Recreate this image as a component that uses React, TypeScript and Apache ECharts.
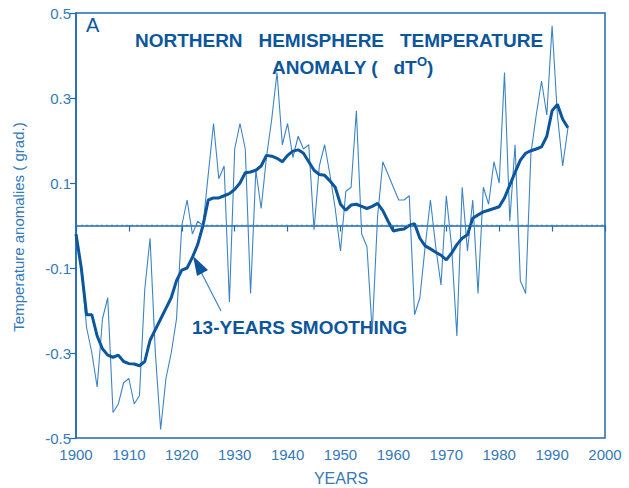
import React, { useEffect, useRef } from "react";
import * as echarts from "echarts";

const startYear = 1900;

// Annual Northern Hemisphere temperature anomalies (thin line), 1900–1993
const annual = [
  -0.02, -0.1, -0.24, -0.3, -0.38, -0.22, -0.17, -0.44, -0.42, -0.37,
  -0.36, -0.42, -0.4, -0.15, -0.03, -0.3, -0.48, -0.36, -0.3, -0.22,
  0.0, 0.06, -0.02, 0.01, 0.0, 0.12, 0.24, 0.11, 0.14, -0.18,
  0.18, 0.24, 0.18, -0.16, 0.13, 0.04, 0.16, 0.25, 0.36, 0.19,
  0.24, 0.16, 0.21, 0.18, 0.19, -0.01, 0.14, 0.19, 0.12, 0.04,
  -0.06, 0.08, 0.09, 0.27, -0.02, -0.05, -0.25, 0.02, 0.15, 0.12,
  0.09, 0.06, 0.06, 0.07, -0.21, -0.17, -0.05, 0.06, -0.05, -0.14,
  0.07, -0.05, -0.26, 0.09, -0.06, 0.06, -0.16, 0.09, 0.05, 0.15,
  0.1, 0.36, 0.01, 0.19, -0.13, -0.16, 0.17, 0.26, 0.34, 0.26,
  0.47, 0.26, 0.14, 0.23,
];

// 13-year smoothing (thick line), 1900–1993
const smoothed = [
  -0.02, -0.1, -0.21, -0.21, -0.26, -0.29, -0.305, -0.31, -0.305, -0.32,
  -0.325, -0.326, -0.33, -0.32, -0.27, -0.245, -0.22, -0.195, -0.17, -0.13,
  -0.105, -0.1, -0.075, -0.045, 0.0, 0.06, 0.065, 0.065, 0.07, 0.075,
  0.085, 0.1, 0.124, 0.126, 0.13, 0.14, 0.165, 0.163, 0.158, 0.15,
  0.165, 0.175, 0.178, 0.17, 0.15, 0.13, 0.12, 0.118, 0.105, 0.09,
  0.05, 0.036, 0.048, 0.05, 0.045, 0.04, 0.045, 0.052, 0.035, 0.01,
  -0.013, -0.01, -0.008, 0.0, 0.004, -0.03, -0.048, -0.055, -0.063, -0.07,
  -0.081, -0.065, -0.045, -0.03, -0.022, 0.017, 0.025, 0.032, 0.036, 0.04,
  0.044, 0.065, 0.095, 0.125, 0.154, 0.17, 0.176, 0.18, 0.185, 0.21,
  0.27, 0.285, 0.25, 0.23,
];

const yTicks = [-0.5, -0.3, -0.1, 0.1, 0.3, 0.5];
const xTicks = [1900, 1910, 1920, 1930, 1940, 1950, 1960, 1970, 1980, 1990, 2000];

const DARK = "#0b569c";
const THIN = "#3c84c5";
const AXIS = "#2269ad";
const LABEL = "#3479ba";
const FONT = "'Liberation Sans', Arial, Helvetica, sans-serif";

export default function App() {
  const ref = useRef<HTMLDivElement>(null);
  useEffect(() => {
    if (!ref.current) return;
    const chart = echarts.init(ref.current, null, { renderer: "svg" });
    const thinData = annual.map((v, i) => [startYear + i, v]);
    const thickData = smoothed.map((v, i) => [startYear + i, v]);
    chart.setOption({
      animation: false,
      textStyle: { fontFamily: FONT },
      grid: {
        left: 76,
        right: 24,
        top: 13,
        bottom: 50,
        show: true,
        borderColor: AXIS,
        borderWidth: 1.5,
        backgroundColor: "transparent",
      },
      xAxis: {
        type: "value",
        min: xTicks[0],
        max: xTicks[xTicks.length - 1],
        interval: 10,
        axisLine: { show: true, lineStyle: { color: AXIS, width: 1.5 } },
        axisTick: { show: true, inside: false, length: 6, lineStyle: { color: AXIS, width: 1.2 } },
        axisLabel: {
          color: LABEL,
          fontSize: 15,
          margin: 9,
          fontFamily: FONT,
          formatter: (v: number) => String(Math.round(v)),
        },
        splitLine: { show: false },
      },
      yAxis: {
        type: "value",
        min: yTicks[0],
        max: yTicks[yTicks.length - 1],
        interval: 0.2,
        axisLine: { show: true, lineStyle: { color: AXIS, width: 1.5 } },
        axisTick: { show: true, inside: false, length: 6, lineStyle: { color: AXIS, width: 1.2 } },
        axisLabel: {
          color: LABEL,
          fontSize: 15,
          margin: 5,
          fontFamily: FONT,
          formatter: (v: number) => v.toFixed(1),
        },
        splitLine: { show: false },
      },
      series: [
        {
          type: "line",
          data: thinData,
          showSymbol: false,
          symbol: "none",
          lineStyle: { color: THIN, width: 1.1 },
          z: 2,
          markLine: {
            silent: true,
            symbol: ["none", "none"],
            label: { show: false },
            lineStyle: { color: THIN, type: [2, 3], width: 1.3 },
            data: [{ yAxis: 0 }],
          },
        },
        {
          type: "line",
          data: thickData,
          showSymbol: false,
          symbol: "none",
          lineStyle: { color: DARK, width: 3 },
          z: 3,
        },
      ],
      graphic: [
        {
          type: "text",
          left: 86,
          top: 15,
          style: { text: "A", fill: DARK, font: `20px ${FONT}` },
        },
        {
          type: "text",
          x: 339,
          y: 40,
          style: {
            text: "NORTHERN   HEMISPHERE   TEMPERATURE",
            fill: DARK,
            font: `bold 19px ${FONT}`,
            textAlign: "center",
            textVerticalAlign: "middle",
          },
        },
        {
          type: "text",
          x: 272,
          y: 67,
          style: {
            text: "{a|ANOMALY (   dT}{s|O}{a|)}",
            fill: DARK,
            textVerticalAlign: "middle",
            rich: {
              a: { fill: DARK, fontFamily: FONT, fontSize: 19, fontWeight: "bold" },
              s: { fill: DARK, fontFamily: FONT, fontSize: 13, fontWeight: "bold", verticalAlign: "top", padding: [0, 0, 12, 0] },
            },
          },
        },
        {
          type: "text",
          x: 192,
          y: 327,
          style: {
            text: "13-YEARS SMOOTHING",
            fill: DARK,
            font: `bold 19px ${FONT}`,
            textVerticalAlign: "middle",
          },
        },
        {
          type: "line",
          shape: { x1: 221, y1: 311, x2: 201, y2: 272 },
          style: { stroke: THIN, lineWidth: 1.2 },
        },
        {
          type: "polygon",
          shape: { points: [[193, 256], [197, 276], [208, 270]] },
          style: { fill: DARK },
        },
        {
          type: "text",
          x: 18,
          y: 227,
          rotation: Math.PI / 2,
          style: {
            text: "Temperature anomalies ( grad.)",
            fill: LABEL,
            font: `15px ${FONT}`,
            textAlign: "center",
            textVerticalAlign: "middle",
          },
        },
        {
          type: "text",
          x: 341,
          y: 478,
          style: {
            text: "YEARS",
            fill: LABEL,
            font: `16px ${FONT}`,
            textAlign: "center",
            textVerticalAlign: "middle",
          },
        },
      ],
    });
    return () => chart.dispose();
  }, []);
  return (
    <div
      ref={ref}
      style={{ position: "fixed", left: 0, top: 0, width: 629, height: 488, background: "#fff" }}
    />
  );
}
